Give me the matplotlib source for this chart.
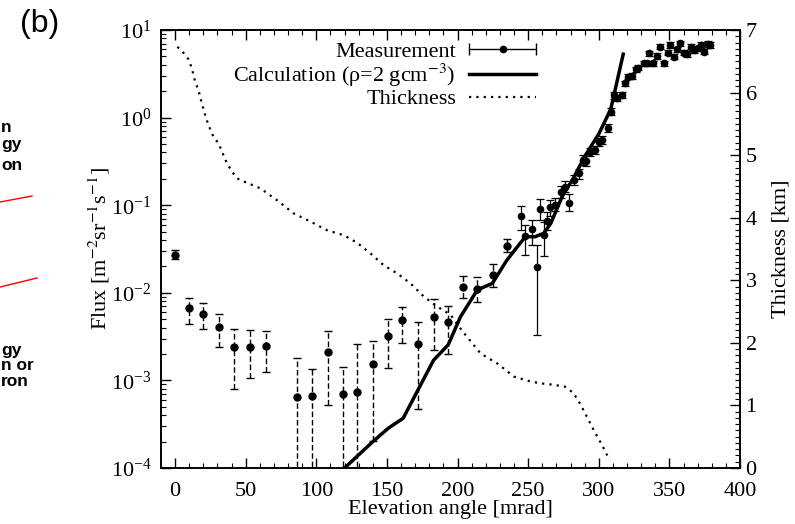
import matplotlib
matplotlib.use("Agg")
import matplotlib.pyplot as plt
import numpy as np
from matplotlib.ticker import MultipleLocator, LogLocator, NullFormatter
from matplotlib.container import ErrorbarContainer
from matplotlib.legend_handler import HandlerErrorbar
from matplotlib.lines import Line2D

plt.rcParams['font.family'] = ['Liberation Serif', 'DejaVu Serif']
plt.rcParams['mathtext.fontset'] = 'stix'
plt.rcParams['font.size'] = 16

# measurement, low flux part (dashed error bars)
low_x = [0, 10, 20, 31, 42, 53, 64, 86, 97, 108, 119, 129, 140, 151, 161, 172, 183, 193, 204, 214, 225, 235]
low_flux = [0.027, 0.0067, 0.0057, 0.0041, 0.0024, 0.0024, 0.0025, 0.00065, 0.00066, 0.0021, 0.0007,
            0.00073, 0.00153, 0.0032, 0.0049, 0.0026, 0.0053, 0.0046, 0.0117, 0.011, 0.0158, 0.0345]
low_lo = [0.024, 0.0044, 0.0039, 0.0024, 0.00079, 0.00107, 0.00124, 1e-5, 1e-5, 0.00053, 1e-5,
          1e-5, 0.000205, 0.00137, 0.0027, 0.00047, 0.0022, 0.0020, 0.0087, 0.0079, 0.0117, 0.029]
low_hi = [0.031, 0.0088, 0.0077, 0.0057, 0.0039, 0.0038, 0.0037, 0.0018, 0.00135, 0.0037, 0.00144,
          0.0026, 0.0028, 0.0050, 0.0069, 0.0047, 0.0086, 0.0071, 0.0157, 0.0153, 0.0213, 0.041]

# measurement, high flux part (solid error bars)
high_x = [245, 248, 253, 256, 258.4, 261, 263.6, 265.7, 269, 273, 276, 279, 282.5, 286, 289, 291,
          294, 297, 300, 302, 306.4, 308.5, 311, 313.2, 316.7, 318.7, 321, 323.2, 326.2, 328.1,
          331.7, 333.8, 335.7, 338.5, 340.9, 343.3, 345.9, 348.7, 350.6, 353, 355.3, 357.7, 360,
          362.4, 365.2, 367.6, 370, 372.3, 374.7, 377, 378.9]
high_flux = [0.075, 0.044, 0.0535, 0.0195, 0.09, 0.046, 0.0665, 0.0946, 0.10, 0.142, 0.163, 0.107,
             0.194, 0.231, 0.328, 0.32, 0.408, 0.427, 0.53, 0.555, 0.767, 1.17, 1.81, 1.66, 1.81,
             2.46, 2.93, 2.98, 3.56, 3.69, 4.17, 4.17, 5.42, 4.17, 5.05, 6.45, 4.17, 5.51, 6.74,
             4.95, 6.03, 7.05, 5.51, 5.32, 6.45, 5.92, 6.2, 6.74, 5.65, 6.92, 6.74]
high_lo = [0.052, 0.027, 0.035, 0.0033, 0.068, 0.026, 0.052, 0.075, 0.085, 0.12, 0.14, 0.085,
           0.17, 0.20, 0.29, 0.28, 0.36, 0.38, 0.47, 0.50, 0.69, 1.06, 1.65, 1.55, 1.69,
           2.30, 2.74, 2.79, 3.33, 3.45, 3.90, 3.90, 5.07, 3.90, 4.72, 6.03, 3.90, 5.15, 6.30,
           4.63, 5.64, 6.59, 5.15, 4.97, 6.03, 5.53, 5.80, 6.30, 5.28, 6.47, 6.30]
high_hi = [0.098, 0.059, 0.067, 0.035, 0.117, 0.065, 0.083, 0.115, 0.12, 0.165, 0.19, 0.135,
           0.22, 0.26, 0.37, 0.36, 0.45, 0.48, 0.59, 0.62, 0.85, 1.28, 1.98, 1.77, 1.94,
           2.63, 3.14, 3.19, 3.81, 3.95, 4.46, 4.46, 5.80, 4.46, 5.40, 6.90, 4.46, 5.90, 7.21,
           5.30, 6.45, 7.54, 5.90, 5.69, 6.90, 6.33, 6.63, 7.21, 6.05, 7.40, 7.21]

# calculation (rho = 2 g/cm3)
calc_x = [120, 140, 151, 161.5, 172, 183, 193.4, 202, 214, 224.6, 235, 248, 255, 261, 266, 274,
          282.5, 290, 300, 308.5, 317.3]
calc_flux = [1.0e-4, 2.0e-4, 2.85e-4, 3.7e-4, 7.8e-4, 1.7e-3, 2.55e-3, 5.3e-3, 1.08e-2, 1.28e-2,
             2.37e-2, 4.37e-2, 4.37e-2, 4.78e-2, 6.2e-2, 0.125, 0.21, 0.36, 0.65, 1.25, 5.3]

# rock thickness (right axis)
thick_x = [1.6, 4.7, 9.5, 11.8, 14.2, 16.5, 18.9, 21.3, 23.6, 27.2, 30.7, 33.1, 36.7, 40.2, 43.8,
           48.5, 60.3, 72.1, 83.9, 95.7, 107.6, 119.4, 128.9, 138.3, 147.7, 157.2, 166.7, 176.1,
           185.6, 195, 203, 216.3, 228.2, 240, 252, 260, 268, 276, 282, 287, 292, 297, 302, 306]
thick_km = [6.73, 6.67, 6.53, 6.39, 6.17, 6.04, 5.83, 5.64, 5.48, 5.29, 5.19, 5.06, 4.87, 4.74, 4.63,
            4.58, 4.47, 4.28, 4.07, 3.94, 3.80, 3.72, 3.60, 3.43, 3.24, 3.11, 2.95, 2.74,
            2.58, 2.45, 2.2, 1.83, 1.67, 1.46, 1.38, 1.35, 1.33, 1.30, 1.2, 1.02, 0.8, 0.58, 0.38, 0.2]

fig = plt.figure(figsize=(7.95, 5.24), dpi=100)
ax = fig.add_axes([161 / 795, 1 - 468 / 524, 579 / 795, 438 / 524])
ax2 = ax.twinx()

ax.set_yscale('log')
ax.set_xlim(-10, 400)
ax.set_ylim(1e-4, 10)
ax2.set_ylim(0, 7)

low_flux = np.array(low_flux)
high_flux = np.array(high_flux)
eb1 = ax.errorbar(low_x, low_flux,
                  yerr=[low_flux - np.array(low_lo), np.array(low_hi) - low_flux],
                  fmt='o', color='k', ms=5, capsize=3, elinewidth=1.0, capthick=1.0)
eb1[2][0].set_linestyle((0, (4, 2)))
ax.errorbar(high_x, high_flux,
            yerr=[high_flux - np.array(high_lo), np.array(high_hi) - high_flux],
            fmt='o', color='k', ms=4.5, capsize=3, elinewidth=0.9, capthick=0.9)

calc_line, = ax.plot(calc_x, calc_flux, color='k', lw=2.5)
thick_line, = ax2.plot(thick_x, thick_km, color='k', lw=1.6, linestyle=(0, (1, 2.3)))

# legend sample for measurement: horizontal bar with caps
proxy = ax.errorbar([np.nan], [np.nan], xerr=[1], fmt='o', color='k', ms=4.5,
                    capsize=4, elinewidth=1.0)

ax2.legend([proxy, calc_line, thick_line],
           ['Measurement', r'Calculation (ρ=2 gcm$^{-3}$)', 'Thickness'],
           loc='upper right', bbox_to_anchor=(0.663, 0.995), frameon=False,
           markerfirst=False, handlelength=3, handletextpad=0.6,
           labelspacing=0.0, borderaxespad=0, fontsize=16,
           handler_map={ErrorbarContainer: HandlerErrorbar(xerr_size=1.5)})

ax.xaxis.set_major_locator(MultipleLocator(50))
ax.xaxis.set_minor_locator(MultipleLocator(10))
ax.yaxis.set_major_locator(LogLocator(base=10, numticks=10))
ax.yaxis.set_minor_locator(LogLocator(base=10, subs=np.arange(2, 10), numticks=20))
ax.yaxis.set_minor_formatter(NullFormatter())
ax2.yaxis.set_major_locator(MultipleLocator(1))
ax2.yaxis.set_minor_locator(MultipleLocator(0.1))

ax.tick_params(which='both', direction='in', top=True, labelsize=16)
ax.tick_params(which='major', length=7, width=1)
ax.tick_params(which='minor', length=3.5, width=0.8)
ax.tick_params(axis='x', pad=10)
ax.tick_params(axis='y', pad=7)
ax2.tick_params(which='both', direction='in', labelsize=16, pad=4)
ax2.tick_params(which='major', length=7, width=1)
ax2.tick_params(which='minor', length=3.5, width=0.8)

for a in (ax, ax2):
    for s in a.spines.values():
        s.set_linewidth(1.2)

ax.set_xlabel('Elevation angle [mrad]', fontsize=16)
ax.set_ylabel(r'Flux [m$^{-2}$sr$^{-1}$s$^{-1}$]', fontsize=16)
ax2.set_ylabel('Thickness [km]', fontsize=16)
ax.xaxis.set_label_coords(0.5, -0.072)
ax.yaxis.set_label_coords(-0.085, 0.5)
ax2.yaxis.set_label_coords(1.055, 0.5)

# panel label and cut-off pieces of the neighbouring panel
fig.text(40 / 795, 1 - 24 / 524, '(b)', fontsize=23, family='Liberation Sans',
         ha='center', va='center')
frag_kw = dict(fontsize=12.5, fontweight='bold', family='Liberation Sans', va='center', ha='left')
for txt, xl, yc in [('n', 1, 128), ('gy', 1, 145), ('on', 1, 165),
                    ('gy', 1, 350), ('n or', 1, 366), ('ron', 1, 382)]:
    fig.text(xl / 795, 1 - yc / 524, txt, **frag_kw)
fig.add_artist(Line2D([0, 32 / 795], [1 - 202 / 524, 1 - 196 / 524], color='red', lw=1))
fig.add_artist(Line2D([0, 37 / 795], [1 - 287 / 524, 1 - 278 / 524], color='red', lw=1))

fig.savefig('out.png', dpi=100)
